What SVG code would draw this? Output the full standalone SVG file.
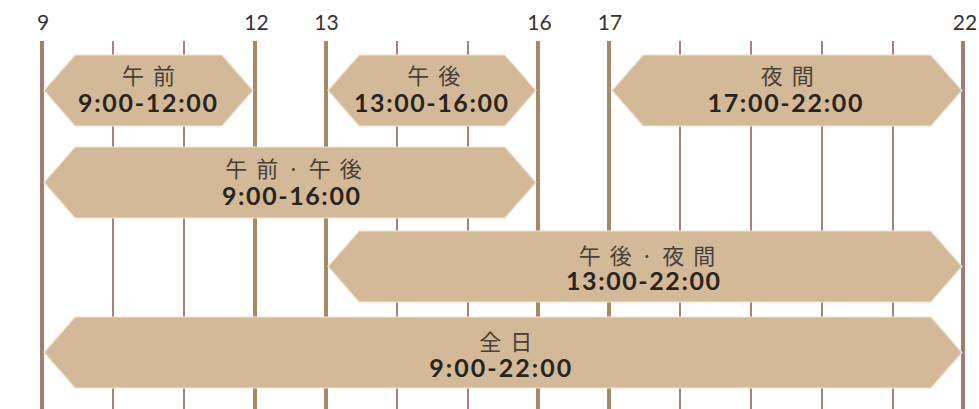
<svg xmlns="http://www.w3.org/2000/svg" width="979" height="409" viewBox="0 0 979 409">
<style>
.edge{stroke-width:4}
.thin{stroke:#a5837a;stroke-width:2}
.end{stroke:#a07f72}
.mid{stroke:#a48a68}
.hr{font-family:Lato,"Liberation Sans",sans-serif;font-size:21px;fill:#333;text-anchor:middle}
.band{fill:#d4b999;stroke:#efe3d6;stroke-width:1.2}
.jp{font-family:"Noto Sans CJK JP","Noto Sans",sans-serif;font-size:22px;fill:#4a3f36;text-anchor:middle;letter-spacing:9px}
.tm{font-family:Lato,"Liberation Sans",sans-serif;font-weight:700;font-size:25px;fill:#2a2420;text-anchor:middle}
</style>
<rect width="979" height="409" fill="#fff"/>
<g id="grid">
<line class="thin" x1="113" y1="41" x2="113" y2="409"/>
<line class="thin" x1="184" y1="41" x2="184" y2="409"/>
<line class="thin" x1="397" y1="41" x2="397" y2="409"/>
<line class="thin" x1="468" y1="41" x2="468" y2="409"/>
<line class="thin" x1="680" y1="41" x2="680" y2="409"/>
<line class="thin" x1="751" y1="41" x2="751" y2="409"/>
<line class="thin" x1="822" y1="41" x2="822" y2="409"/>
<line class="thin" x1="893" y1="41" x2="893" y2="409"/>
<line class="edge end" x1="42" y1="41" x2="42" y2="409"/>
<line class="edge mid" x1="255" y1="41" x2="255" y2="409"/>
<line class="edge mid" x1="326" y1="41" x2="326" y2="409"/>
<line class="edge mid" x1="538" y1="41" x2="538" y2="409"/>
<line class="edge mid" x1="609" y1="41" x2="609" y2="409"/>
<line class="edge end" x1="963" y1="41" x2="963" y2="409"/>
</g>
<g id="hours">
<text class="hr" x="43" y="29.5">9</text>
<text class="hr" x="256.5" y="29.5">12</text>
<text class="hr" x="326.5" y="29.5">13</text>
<text class="hr" x="539.5" y="29.5">16</text>
<text class="hr" x="610" y="29.5">17</text>
<text class="hr" x="965" y="29.5">22</text>
</g>
<g id="morning">
<polygon class="band" points="44,90.5 75,55 222,55 253,90.5 222,126 75,126"/>
<text class="jp" x="153" y="84">午前</text>
<text class="tm" x="147.5" y="111.5" textLength="139" lengthAdjust="spacing">9:00-12:00</text>
</g>
<g id="afternoon">
<polygon class="band" points="328,90.5 359,55 505,55 536,90.5 505,126 359,126"/>
<text class="jp" x="438.2" y="84">午後</text>
<text class="tm" x="431" y="111.5" textLength="154" lengthAdjust="spacing">13:00-16:00</text>
</g>
<g id="evening">
<polygon class="band" points="612,90.5 643,55 931,55 962,90.5 931,126 643,126"/>
<text class="jp" x="791.8" y="84">夜間</text>
<text class="tm" x="785" y="111.5" textLength="155" lengthAdjust="spacing">17:00-22:00</text>
</g>
<g id="morning-afternoon">
<polygon class="band" points="44,182.5 75,147 505,147 536,182.5 505,218 75,218"/>
<text class="jp" x="298" y="176.5">午前·午後</text>
<text class="tm" x="291" y="205" textLength="138" lengthAdjust="spacing">9:00-16:00</text>
</g>
<g id="afternoon-evening">
<polygon class="band" points="328,266.5 359,231 931,231 962,266.5 931,302 359,302"/>
<text class="jp" x="651.5" y="263.5">午後·夜間</text>
<text class="tm" x="643" y="290" textLength="154" lengthAdjust="spacing">13:00-22:00</text>
</g>
<g id="all-day">
<polygon class="band" points="44,352.5 75,317 931,317 962,352.5 931,388 75,388"/>
<text class="jp" x="510.3" y="349.5">全日</text>
<text class="tm" x="500.3" y="376.7" textLength="142" lengthAdjust="spacing">9:00-22:00</text>
</g>
</svg>
